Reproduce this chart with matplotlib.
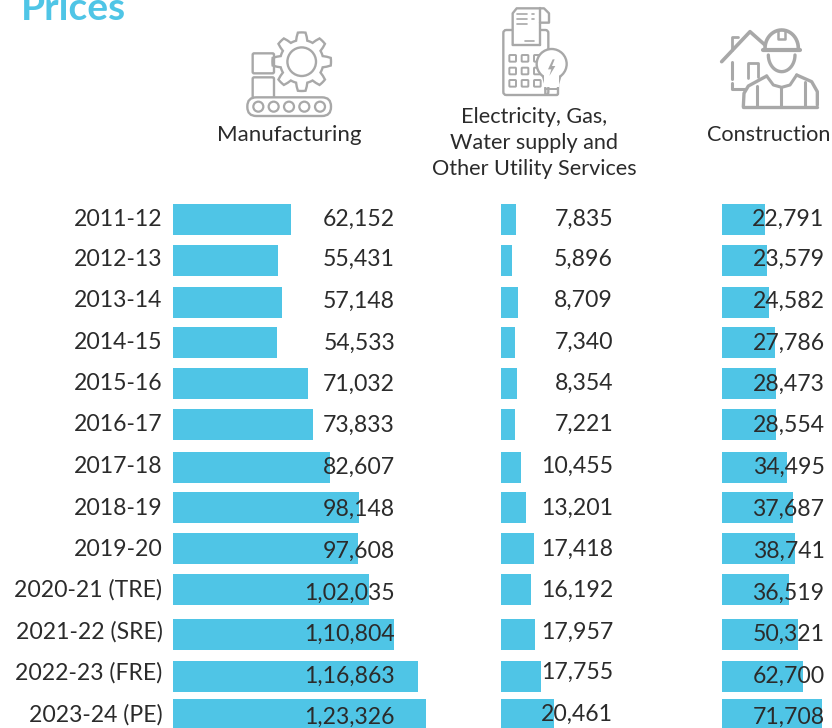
import numpy as np
import matplotlib
matplotlib.use("Agg")
import matplotlib.pyplot as plt
from matplotlib.patches import Circle, FancyBboxPatch, Polygon, Rectangle

plt.rcParams["font.family"] = ["Lato", "DejaVu Sans"]

years = ["2011-12", "2012-13", "2013-14", "2014-15", "2015-16", "2016-17", "2017-18",
         "2018-19", "2019-20", "2020-21 (TRE)", "2021-22 (SRE)", "2022-23 (FRE)", "2023-24 (PE)"]

# printed values
mfg_labels = ["62,152", "55,431", "57,148", "54,533", "71,032", "73,833", "82,607",
              "98,148", "97,608", "1,02,035", "1,10,804", "1,16,863", "1,23,326"]
elec_labels = ["7,835", "5,896", "8,709", "7,340", "8,354", "7,221", "10,455",
               "13,201", "17,418", "16,192", "17,957", "17,755", "20,461"]
cons_labels = ["22,791", "23,579", "24,582", "27,786", "28,473", "28,554", "34,495",
               "37,687", "38,741", "36,519", "50,321", "62,700", "71,708"]

# bar lengths (the bars are not to scale with the labels)
mfg_bars = [118, 105, 109, 104, 135, 140, 157, 186, 185, 196, 221, 245, 253]
elec_bars = [15, 11, 17, 14, 16, 14, 20, 25, 33, 30, 34, 40, 53]
cons_bars = [43.5, 45.5, 47.5, 53.5, 54.5, 54.5, 65.5, 71.5, 73.5, 67.5, 76.5, 81.5, 100.5]

BLUE = "#4fc5e6"
INK = "#2b2b2b"
ICON = "#a8a8a8"
FS = 16.6

# the rows in the original are a little uneven
row_nudge = np.array([0, 0, 0, -1, -1, -1, 0, -1, -1, -1, 2.5, 3, 0])
row_y = 219.5 + 41.25 * np.arange(13) + row_nudge
text_a = np.array([217.2, 257.2, 298.2, 340.2, 381.2, 422.2, 464.2, 506.2, 547.2, 588.2, 630.2, 670.7, 712.7])
text_b = np.array([217.2, 257.2, 299.2, 341.2, 382.2, 423.7, 465.2, 507.2, 549.2, 591.2, 632.2, 674.2, 715.2])

fig = plt.figure(figsize=(8.32, 7.28), dpi=100)
ax = fig.add_axes([0, 0, 1, 1])
ax.set_xlim(0, 832)
ax.set_ylim(728, 0)
ax.axis("off")

ax.barh(row_y, mfg_bars, left=173, height=31, color=BLUE, zorder=2)
ax.barh(row_y, elec_bars, left=501, height=31, color=BLUE, zorder=2)
ax.barh(row_y, cons_bars, left=721.5, height=31, color=BLUE, zorder=2)

for i in range(13):
    ax.text(162.5, text_a[i], years[i], ha="right", va="center_baseline", fontsize=FS, color=INK, zorder=3)
    ax.text(395, text_b[i], mfg_labels[i], ha="right", va="center_baseline", fontsize=FS, color=INK, zorder=3)
    ax.text(613, text_a[i], elec_labels[i], ha="right", va="center_baseline", fontsize=FS, color=INK, zorder=3)
    ax.text(824.5, text_b[i], cons_labels[i], ha="right", va="center_baseline", fontsize=FS, color=INK, zorder=3)

ax.text(21, 19.5, "Prices", ha="left", va="baseline", fontsize=28, fontweight="bold", color=BLUE)
ax.text(289.5, 133, "Manufacturing", ha="center", va="center_baseline", fontsize=16, color=INK)
ax.text(534.5, 115, "Electricity, Gas,", ha="center", va="center_baseline", fontsize=15.6, color=INK)
ax.text(534.5, 141, "Water supply and", ha="center", va="center_baseline", fontsize=15.6, color=INK)
ax.text(534.5, 167, "Other Utility Services", ha="center", va="center_baseline", fontsize=15.6, color=INK)
ax.text(769, 133, "Construction", ha="center", va="center_baseline", fontsize=15.6, color=INK)


# icons: coordinates are taken from 3x crops, (ox, oy) is the crop corner
def z(pts, ox, oy=0):
    return [(ox + x / 3, oy + y / 3) for x, y in pts]


def icon_line(pts, ox, lw=1.7, closed=False):
    p = z(pts, ox)
    if closed:
        p = p + p[:1]
    ax.plot([a for a, b in p], [b for a, b in p], color=ICON, lw=lw,
            solid_capstyle="round", solid_joinstyle="round", zorder=4)


def icon_box(x0, y0, x1, y1, ox, r=1.5, lw=1.7, fc="none"):
    a, b = z([(x0, y0), (x1, y1)], ox)
    ax.add_patch(FancyBboxPatch(a, b[0] - a[0], b[1] - a[1], boxstyle=f"round,pad=0,rounding_size={r}",
                                fc=fc, ec=ICON, lw=lw, zorder=4))


# manufacturing: gear, two boxes, conveyor
t = np.linspace(0, 2 * np.pi, 97)[:-1]
wave = np.clip(np.cos(8 * t) * 2.2, -1, 1)
rad = 25.5 + 3.8 * wave
ax.add_patch(Polygon(np.c_[301.7 + rad * np.cos(t), 61.7 + rad * np.sin(t)], closed=True, fc="white", ec=ICON, lw=1.7, zorder=4))
ax.add_patch(Circle((301.7, 61.7), 14.3, fc="none", ec=ICON, lw=1.7, zorder=5))
icon_box(158, 160, 222, 220, 200)
icon_box(158, 232, 222, 295, 200)
icon_box(142, 292, 393, 348, 200, r=9, fc="white")
for cx in [175, 221, 267, 313, 360]:
    ax.add_patch(Circle((200 + cx / 3, 320 / 3), 5, fc="none", ec=ICON, lw=1.6, zorder=5))

# electricity: till, receipt, keypad, bulb
icon_box(250, 90, 385, 285, 420, r=3)
ax.add_patch(Rectangle((420 + 278 / 3, 20 / 3), 82 / 3, 115 / 3, fc="white", ec="none", zorder=4))
icon_line([(278, 135), (278, 40), (290, 25), (372, 25), (387, 40), (387, 68), (360, 68)], 420)
icon_line([(360, 25), (360, 135)], 420)
icon_line([(278, 135), (360, 135)], 420)
icon_line([(292, 42), (322, 42)], 420, lw=1.2)
icon_line([(292, 57), (322, 57)], 420, lw=1.2)
icon_line([(292, 72), (322, 72)], 420, lw=1.2)
icon_line([(335, 42), (342, 42)], 420, lw=1.2)
icon_line([(335, 57), (342, 57)], 420, lw=1.2)
icon_line([(316, 122), (342, 122)], 420, lw=1.2)
for ky in [165, 203, 240]:
    for kx in [268, 305, 342]:
        icon_box(kx, ky, kx + 20, ky + 20, 420, r=0.8, lw=1.4)
ax.add_patch(Circle((420 + 395 / 3, 192 / 3), 15, fc="white", ec=ICON, lw=1.7, zorder=5))
ax.add_patch(Rectangle((420 + 372 / 3, 225 / 3), 46 / 3, 35 / 3, fc="white", ec="none", zorder=5))
icon_line([(368, 225), (376, 252), (414, 252), (422, 225)], 420)
icon_box(376, 252, 414, 285, 420, r=1.5)
icon_line([(376, 268), (414, 268)], 420, lw=1.4)
ax.add_patch(Polygon(z([(398, 178), (384, 208), (394, 208), (388, 228), (406, 198), (396, 198), (404, 178)], 420),
                     closed=True, fc=ICON, ec="none", zorder=6))

# construction: house and worker
icon_line([(905, 185), (990, 95), (1035, 135)], 420, lw=2.6)
icon_line([(935, 150), (935, 112), (955, 112)], 420, lw=2)
icon_line([(935, 185), (935, 238)], 420, lw=2.2)
icon_line([(935, 250), (935, 268), (975, 268)], 420, lw=2.2)
icon_line([(985, 235), (985, 190), (1015, 190), (1015, 230)], 420, lw=2)
th = np.linspace(np.pi, 2 * np.pi, 25)
icon_line(list(zip(1085 + 50 * np.cos(th), 145 + 55 * np.sin(th))), 420, lw=2.6)
icon_line([(1030, 150), (1140, 150)], 420, lw=3)
th = np.linspace(0, np.pi, 25)
icon_line(list(zip(1085 + 40 * np.cos(th), 165 + 50 * np.sin(th))), 420, lw=2.4)
icon_line([(1075, 90), (1075, 118), (1095, 118), (1095, 90)], 420, lw=1.8)
icon_line([(970, 320), (972, 280), (985, 258), (1040, 228)], 420, lw=2.4)
icon_line([(1130, 225), (1175, 245), (1192, 275), (1192, 315)], 420, lw=2.4)
icon_line([(970, 322), (1192, 322)], 420, lw=2.4)
icon_line([(1010, 258), (1010, 320)], 420, lw=2.2)
icon_line([(1155, 245), (1155, 320)], 420, lw=2.2)
icon_line([(1040, 228), (1060, 255), (1085, 262), (1110, 255), (1130, 225)], 420, lw=2.2)
icon_line([(1082, 262), (1082, 320)], 420, lw=2.2)

plt.savefig("out.png", dpi=100)
